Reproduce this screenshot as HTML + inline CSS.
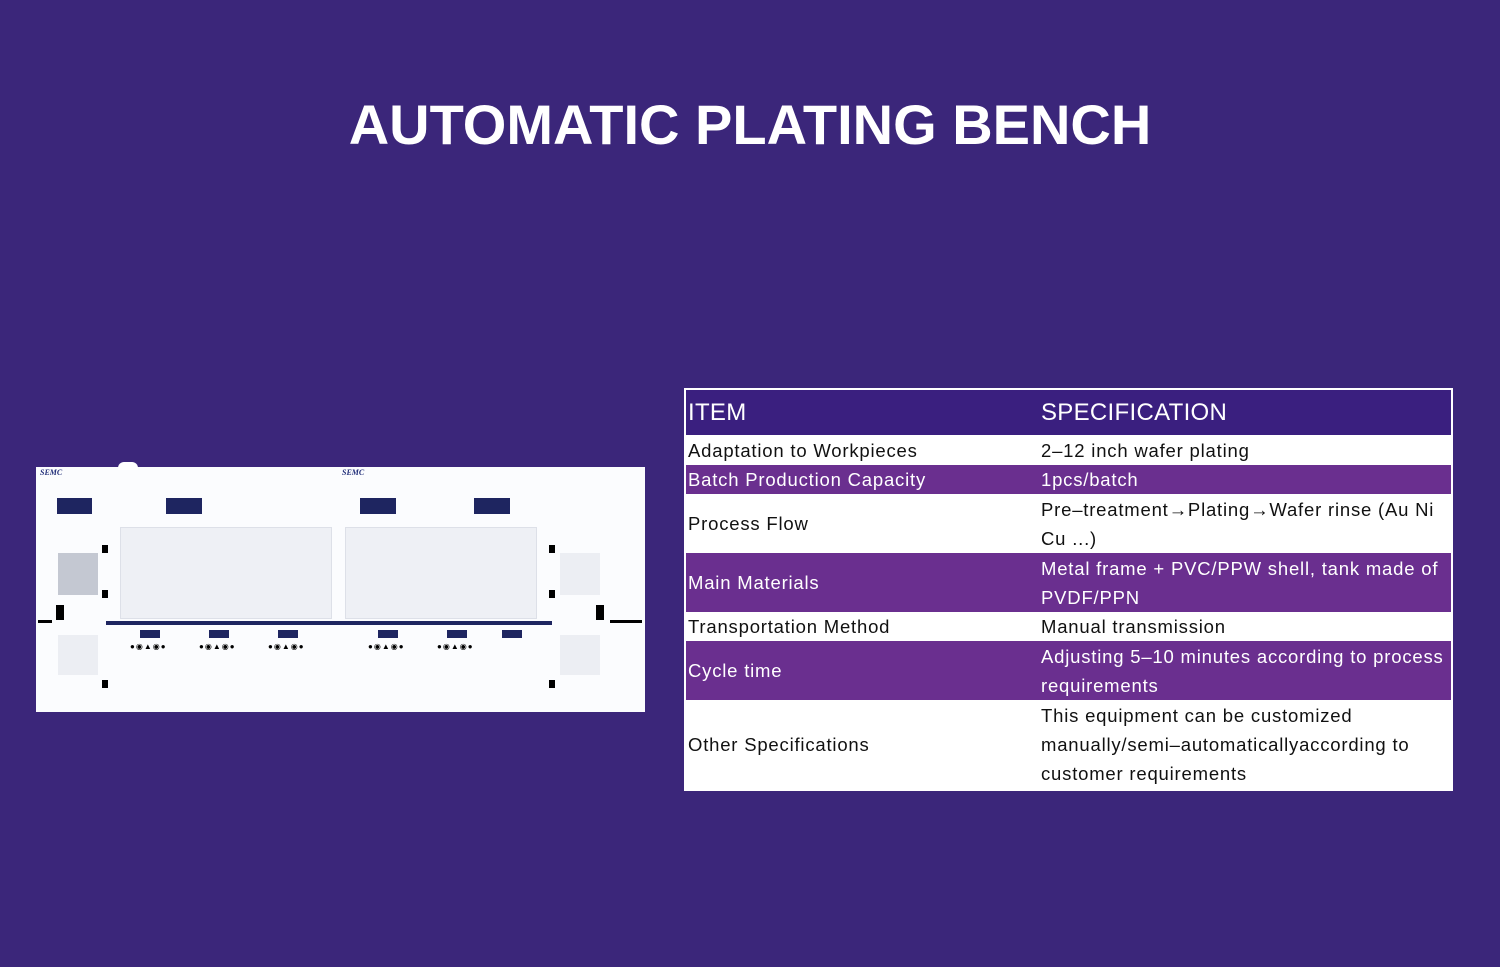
<!DOCTYPE html>
<html><head><style>
body{margin:0;width:1500px;height:967px;background:#3b267a;position:relative;overflow:hidden;font-family:"Liberation Sans",sans-serif}
h1{position:absolute;top:92px;left:0;width:1500px;text-align:center;margin:0;color:#fff;font-size:56px;font-weight:bold;letter-spacing:0px}
table{position:absolute;left:684px;top:388px;width:769px;border-collapse:collapse;border:2px solid #fff;background:#fff}
td{padding:0 2px;font-size:18.5px;color:#111;line-height:29px;vertical-align:middle;letter-spacing:0.8px}
tr.h td{background:#3a1f7f;color:#fff;font-size:24px;height:45px;letter-spacing:0.3px}
tr.p td{background:#6a2f8f;color:#fff}
td:first-child{width:349px}
.m{position:absolute;background:#fff}
.d{position:absolute;background:#1e2560}
.b{position:absolute;background:#000}
</style></head><body>
<h1>AUTOMATIC PLATING BENCH</h1>
<div class="m" style="left:36px;top:467px;width:609px;height:245px;background:#fbfcfe"></div>
<div class="m" style="left:118px;top:462px;width:20px;height:8px;border-radius:6px 6px 0 0"></div>
<div style="position:absolute;left:40px;top:468px;font:bold italic 8px 'Liberation Serif';color:#23307a">SEMC</div>
<div style="position:absolute;left:342px;top:468px;font:bold italic 8px 'Liberation Serif';color:#23307a">SEMC</div>
<div class="d" style="left:57px;top:498px;width:35px;height:16px"></div>
<div class="d" style="left:166px;top:498px;width:36px;height:16px"></div>
<div class="d" style="left:360px;top:498px;width:36px;height:16px"></div>
<div class="d" style="left:474px;top:498px;width:36px;height:16px"></div>
<div style="position:absolute;left:120px;top:527px;width:210px;height:90px;background:#eef0f5;border:1px solid #dde0e8"></div>
<div style="position:absolute;left:345px;top:527px;width:190px;height:90px;background:#eef0f5;border:1px solid #dde0e8"></div>
<div style="position:absolute;left:58px;top:553px;width:40px;height:42px;background:#c4c8d2"></div>
<div style="position:absolute;left:560px;top:553px;width:40px;height:42px;background:#eceef3"></div>
<div style="position:absolute;left:58px;top:635px;width:40px;height:40px;background:#eceef3"></div>
<div style="position:absolute;left:560px;top:635px;width:40px;height:40px;background:#eceef3"></div>
<div class="d" style="left:106px;top:621px;width:446px;height:4px"></div>
<div class="b" style="left:38px;top:620px;width:14px;height:3px"></div>
<div class="b" style="left:56px;top:605px;width:8px;height:15px"></div>
<div class="b" style="left:596px;top:605px;width:8px;height:15px"></div>
<div class="b" style="left:610px;top:620px;width:32px;height:3px"></div>
<div class="b" style="left:102px;top:545px;width:6px;height:8px"></div>
<div class="b" style="left:102px;top:590px;width:6px;height:8px"></div>
<div class="b" style="left:102px;top:680px;width:6px;height:8px"></div>
<div class="b" style="left:549px;top:545px;width:6px;height:8px"></div>
<div class="b" style="left:549px;top:590px;width:6px;height:8px"></div>
<div class="b" style="left:549px;top:680px;width:6px;height:8px"></div>
<div class="d" style="left:140px;top:630px;width:20px;height:8px"></div>
<div class="d" style="left:209px;top:630px;width:20px;height:8px"></div>
<div class="d" style="left:278px;top:630px;width:20px;height:8px"></div>
<div class="d" style="left:378px;top:630px;width:20px;height:8px"></div>
<div class="d" style="left:447px;top:630px;width:20px;height:8px"></div>
<div class="d" style="left:502px;top:630px;width:20px;height:8px"></div>
<div style="position:absolute;left:130px;top:642px;font-size:8px;color:#000;letter-spacing:1px">●◉▲◉●</div>
<div style="position:absolute;left:199px;top:642px;font-size:8px;color:#000;letter-spacing:1px">●◉▲◉●</div>
<div style="position:absolute;left:268px;top:642px;font-size:8px;color:#000;letter-spacing:1px">●◉▲◉●</div>
<div style="position:absolute;left:368px;top:642px;font-size:8px;color:#000;letter-spacing:1px">●◉▲◉●</div>
<div style="position:absolute;left:437px;top:642px;font-size:8px;color:#000;letter-spacing:1px">●◉▲◉●</div>
<table>
<tr class="h"><td>ITEM</td><td>SPECIFICATION</td></tr>
<tr style="height:30px"><td>Adaptation to Workpieces</td><td>2–12 inch wafer plating</td></tr>
<tr class="p" style="height:29px"><td>Batch Production Capacity</td><td>1pcs/batch</td></tr>
<tr style="height:59px"><td>Process Flow</td><td>Pre–treatment→Plating→Wafer rinse (Au Ni Cu ...)</td></tr>
<tr class="p" style="height:59px"><td>Main Materials</td><td>Metal frame + PVC/PPW shell, tank made of PVDF/PPN</td></tr>
<tr style="height:29px"><td>Transportation Method</td><td>Manual transmission</td></tr>
<tr class="p" style="height:59px"><td>Cycle time</td><td>Adjusting 5–10 minutes according to process requirements</td></tr>
<tr style="height:90px"><td>Other Specifications</td><td>This equipment can be customized manually/semi–automaticallyaccording to customer requirements</td></tr>
</table>
</body></html>
